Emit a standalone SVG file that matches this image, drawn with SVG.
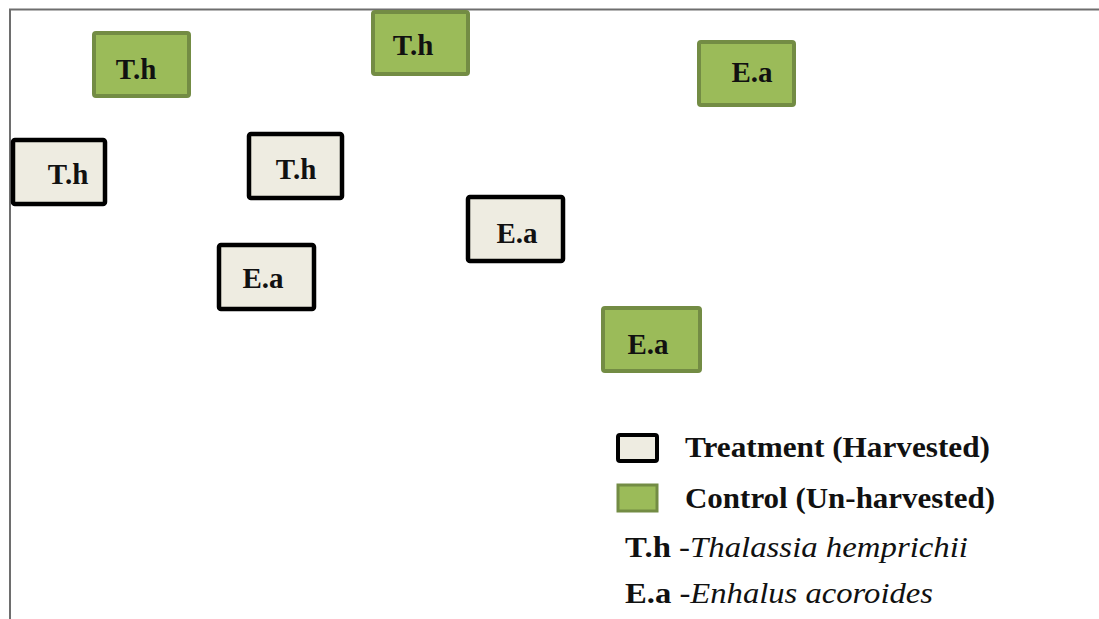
<svg xmlns="http://www.w3.org/2000/svg" width="1099" height="619" viewBox="0 0 1099 619">
<style>
.frame{stroke:#6e6e6e;stroke-width:2;fill:none}
.ctrl{fill:#9bbb59;stroke:#738c44;stroke-width:4}
.trt{fill:#eeece1;stroke:#000;stroke-width:4.5}
.lbl{font-family:'Liberation Serif',serif;font-weight:bold;font-size:29px;fill:#111;text-anchor:middle}
.leg{font-family:'Liberation Serif',serif;font-weight:bold;font-size:29px;fill:#111}
.it{font-family:'Liberation Serif',serif;font-style:italic;font-weight:normal}
</style>
<rect width="1099" height="619" fill="#fff"/>
<g id="frame"><path class="frame" d="M10,619 V9.5 H1099"/></g>
<g id="connectors"/>
<g id="c-th1"><rect class="ctrl" x="94" y="33" width="95" height="63" rx="2"/><text class="lbl" x="136" y="79">T.h</text></g>
<g id="c-th2"><rect class="ctrl" x="373" y="12" width="95" height="62" rx="2"/><text class="lbl" x="413" y="55">T.h</text></g>
<g id="c-ea1"><rect class="ctrl" x="699" y="42" width="95" height="63" rx="2"/><text class="lbl" x="752" y="82">E.a</text></g>
<g id="c-ea2"><rect class="ctrl" x="603" y="308" width="97" height="63" rx="2"/><text class="lbl" x="648" y="354">E.a</text></g>
<g id="t-th1"><rect class="trt" x="13" y="140" width="92" height="64" rx="2"/><text class="lbl" x="68" y="184">T.h</text></g>
<g id="t-th2"><rect class="trt" x="249" y="134" width="93" height="64" rx="2"/><text class="lbl" x="296" y="179">T.h</text></g>
<g id="t-ea1"><rect class="trt" x="219" y="245" width="95" height="64" rx="2"/><text class="lbl" x="263" y="288">E.a</text></g>
<g id="t-ea2"><rect class="trt" x="468" y="197" width="95" height="64" rx="2"/><text class="lbl" x="517" y="243">E.a</text></g>
<g id="legend">
<rect class="trt" x="618" y="435" width="39" height="26" rx="2" style="stroke-width:4"/>
<text class="leg" x="685" y="457" textLength="305" lengthAdjust="spacingAndGlyphs">Treatment (Harvested)</text>
<rect class="ctrl" x="618" y="485" width="39" height="26" style="stroke-width:3"/>
<text class="leg" x="685" y="508" textLength="310" lengthAdjust="spacingAndGlyphs">Control (Un-harvested)</text>
<text class="leg" x="625" y="557" textLength="343" lengthAdjust="spacingAndGlyphs">T.h <tspan style="font-weight:normal">-</tspan><tspan class="it">Thalassia hemprichii</tspan></text>
<text class="leg" x="625" y="603" textLength="308" lengthAdjust="spacingAndGlyphs">E.a <tspan style="font-weight:normal">-</tspan><tspan class="it">Enhalus acoroides</tspan></text>
</g>
</svg>
